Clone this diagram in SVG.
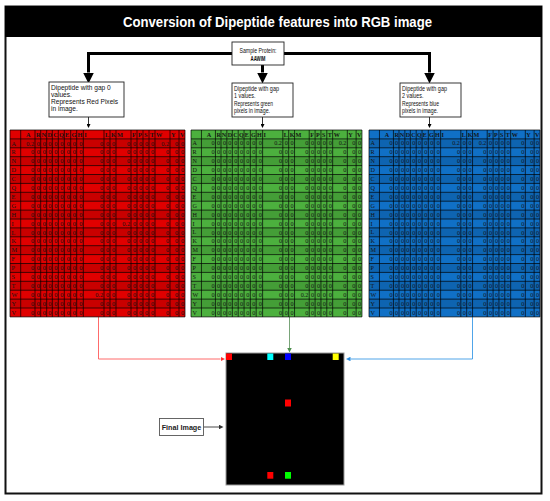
<svg xmlns="http://www.w3.org/2000/svg" xmlns:xlink="http://www.w3.org/1999/xlink" width="550" height="501" viewBox="0 0 550 501">
<style>
.frame{fill:none;stroke:#111;stroke-width:2}
.title{font-family:"Liberation Sans",Arial,sans-serif;font-weight:bold;font-size:15px;fill:#fff}
.box{fill:#fff;stroke:#222;stroke-width:0.9}
.bt{font-family:"Liberation Sans",Arial,sans-serif;font-size:6.6px;fill:#111}
.thick{fill:none;stroke:#000;stroke-width:3}
.thin{fill:none;stroke:#000;stroke-width:0.8}
.gl{fill:none;stroke:#000;stroke-width:0.7}
.gt{font-family:"Liberation Serif","Times New Roman",serif;font-size:6.3px;fill:#151515}
.gh{font-weight:bold}
.v{text-anchor:end}
.stripe{fill:#000;opacity:0.1}
</style>
<defs>
<marker id="ah-big" viewBox="0 -5 10 10" refX="0" refY="0" markerUnits="userSpaceOnUse" markerWidth="11" markerHeight="11" orient="auto"><path d="M0,-5L10,0L0,5z" fill="#000"/></marker>
<marker id="ah-s" viewBox="0 -5 10 10" refX="0" refY="0" markerUnits="userSpaceOnUse" markerWidth="4" markerHeight="4" orient="auto"><path d="M0,-5L10,0L0,5z" fill="#000"/></marker>
<marker id="ah-r" viewBox="0 -5 10 10" refX="0" refY="0" markerUnits="userSpaceOnUse" markerWidth="4.5" markerHeight="4.5" orient="auto"><path d="M0,-5L10,0L0,5z" fill="#ff3030"/></marker>
<marker id="ah-g" viewBox="0 -5 10 10" refX="0" refY="0" markerUnits="userSpaceOnUse" markerWidth="4.5" markerHeight="4.5" orient="auto"><path d="M0,-5L10,0L0,5z" fill="#4e8f4e"/></marker>
<marker id="ah-b" viewBox="0 -5 10 10" refX="0" refY="0" markerUnits="userSpaceOnUse" markerWidth="4.5" markerHeight="4.5" orient="auto"><path d="M0,-5L10,0L0,5z" fill="#2f8fe0"/></marker>
<marker id="ah-k" viewBox="0 -5 10 10" refX="0" refY="0" markerUnits="userSpaceOnUse" markerWidth="4.5" markerHeight="4.5" orient="auto"><path d="M0,-5L10,0L0,5z" fill="#333"/></marker>

<path id="stripes" class="stripe" d="M0 8.9h175v8.9H0zM0 26.7h175v8.9H0zM0 44.5h175v8.9H0zM0 62.3h175v8.9H0zM0 80.1h175v8.9H0zM0 97.9h175v8.9H0zM0 115.7h175v8.9H0zM0 133.5h175v8.9H0zM0 151.3h175v8.9H0zM0 169.1h175v8.9H0z"/>

<text id="zr" class="gt v" x="24.1 29.8 35.8 41.4 47.4 53.4 59.8 65.8 72.4 93.1 99.1 105.1 120.1 126.1 132.1 138.1 144.1 159.1 168.1 174.1">00000000000000000000</text>

<g id="gridbase">
<path class="gl" d="M0 0H175M0 8.9H175M0 17.8H175M0 26.7H175M0 35.6H175M0 44.5H175M0 53.4H175M0 62.3H175M0 71.2H175M0 80.1H175M0 89H175M0 97.9H175M0 106.8H175M0 115.7H175M0 124.6H175M0 133.5H175M0 142.4H175M0 151.3H175M0 160.2H175M0 169.1H175M0 178H175M0 186.9H175M0 0V186.9M10.7 0V186.9M25 0V186.9M30.7 0V186.9M36.7 0V186.9M42.3 0V186.9M48.3 0V186.9M54.3 0V186.9M60.7 0V186.9M66.7 0V186.9M73.3 0V186.9M94 0V186.9M100 0V186.9M106 0V186.9M121 0V186.9M127 0V186.9M133 0V186.9M139 0V186.9M145 0V186.9M160 0V186.9M169 0V186.9M175 0V186.9"/>
<text class="gt gh" x="16 26 31.6 37.5 43.2 49.1 55.1 61.5 67.5 74.3 95 101 107 122 128 134 140 146 161 170" y="6.6">ARNDCQEGHILKMFPSTWYV</text>
<text class="gt" x="1.5 1.5 1.5 1.5 1.5 1.5 1.5 1.5 1.5 1.5 1.5 1.5 1.5 1.5 1.5 1.5 1.5 1.5 1.5 1.5" y="15.5 24.4 33.3 42.2 51.1 60 68.9 77.8 86.7 95.6 104.5 113.4 122.3 131.2 140.1 149 157.9 166.8 175.7 184.6">ARNDCQEGHILKMFPSTWYV</text>
<text class="gt v" x="29.8 35.8 41.4 47.4 53.4 59.8 65.8 72.4 99.1 105.1 126.1 132.1 138.1 144.1 168.1 174.1" y="15.5">0000000000000000</text>
<use xlink:href="#zr" href="#zr" y="24.4"/>
<use xlink:href="#zr" href="#zr" y="33.3"/>
<use xlink:href="#zr" href="#zr" y="42.2"/>
<use xlink:href="#zr" href="#zr" y="51.1"/>
<use xlink:href="#zr" href="#zr" y="60"/>
<use xlink:href="#zr" href="#zr" y="68.9"/>
<use xlink:href="#zr" href="#zr" y="77.8"/>
<use xlink:href="#zr" href="#zr" y="86.7"/>
<text class="gt v" x="24.1 29.8 35.8 41.4 47.4 53.4 59.8 65.8 72.4 93.1 99.1 105.1 126.1 132.1 138.1 144.1 159.1 168.1 174.1" y="95.6">0000000000000000000</text>
<use xlink:href="#zr" href="#zr" y="104.5"/>
<use xlink:href="#zr" href="#zr" y="113.4"/>
<use xlink:href="#zr" href="#zr" y="122.3"/>
<use xlink:href="#zr" href="#zr" y="131.2"/>
<use xlink:href="#zr" href="#zr" y="140.1"/>
<use xlink:href="#zr" href="#zr" y="149"/>
<use xlink:href="#zr" href="#zr" y="157.9"/>
<text class="gt v" x="24.1 29.8 35.8 41.4 47.4 53.4 59.8 65.8 72.4 99.1 105.1 126.1 132.1 138.1 144.1 159.1 168.1 174.1" y="166.8">000000000000000000</text>
<use xlink:href="#zr" href="#zr" y="175.7"/>
<use xlink:href="#zr" href="#zr" y="184.6"/>
</g>
</defs>

<rect x="0" y="0" width="550" height="501" fill="#fff"/>

<g id="frame">
<rect class="frame" x="5.5" y="6.5" width="536" height="487"/>
</g>

<g id="title">
<rect x="5" y="6" width="537" height="31" fill="#000"/>
<text class="title" x="277.5" y="27" text-anchor="middle" textLength="309" lengthAdjust="spacingAndGlyphs">Conversion of Dipeptide features into RGB image</text>
</g>

<g id="connectors">
<path class="thick" d="M232 53.5H88.5V72.5" marker-end="url(#ah-big)"/>
<path class="thick" d="M284 53.5H429.5V72.5" marker-end="url(#ah-big)"/>
<path class="thick" d="M262.5 65V72.5" marker-end="url(#ah-big)"/>
<path class="thin" d="M88.5 117V124" marker-end="url(#ah-s)"/>
<path class="thin" d="M262.5 117V124" marker-end="url(#ah-s)"/>
<path class="thin" d="M429.5 117V124" marker-end="url(#ah-s)"/>
<path fill="none" stroke="#ff5a5a" stroke-width="0.9" d="M98.5 317V359H220.5" marker-end="url(#ah-r)"/>
<path fill="none" stroke="#6a9a6a" stroke-width="0.9" d="M289.5 317V348" marker-end="url(#ah-g)"/>
<path fill="none" stroke="#3c9be6" stroke-width="0.9" d="M472.5 317V359H350.5" marker-end="url(#ah-b)"/>
<path fill="none" stroke="#333" stroke-width="0.9" d="M203.5 427H219" marker-end="url(#ah-k)"/>
</g>

<g id="sample-protein">
<rect class="box" x="232" y="42" width="52" height="23"/>
<text class="bt" x="258" y="52.5" text-anchor="middle" textLength="37" lengthAdjust="spacingAndGlyphs">Sample Protein:</text>
<text class="bt" x="258" y="61" text-anchor="middle" font-weight="bold" textLength="15" lengthAdjust="spacingAndGlyphs">AAWIM</text>
</g>

<g id="gap0-box">
<rect class="box" x="49" y="82" width="75" height="35"/>
<text class="bt" x="51" y="89.5">Dipeptide with gap 0</text>
<text class="bt" x="51" y="96.7">values.</text>
<text class="bt" x="51" y="103.9">Represents Red Pixels</text>
<text class="bt" x="51" y="111.2">in image.</text>
</g>

<g id="gap1-box">
<rect class="box" x="232" y="83" width="61" height="34"/>
<text class="bt" x="234" y="91" textLength="45" lengthAdjust="spacingAndGlyphs">Dipeptide with gap</text>
<text class="bt" x="234" y="98.3" textLength="21.5" lengthAdjust="spacingAndGlyphs">1 values.</text>
<text class="bt" x="234" y="105.6" textLength="39" lengthAdjust="spacingAndGlyphs">Represents green</text>
<text class="bt" x="234" y="112.9" textLength="36" lengthAdjust="spacingAndGlyphs">pixels in image.</text>
</g>

<g id="gap2-box">
<rect class="box" x="400" y="83" width="61" height="34"/>
<text class="bt" x="402" y="91" textLength="45" lengthAdjust="spacingAndGlyphs">Dipeptide with gap</text>
<text class="bt" x="402" y="98.3" textLength="21.5" lengthAdjust="spacingAndGlyphs">2 values.</text>
<text class="bt" x="402" y="105.6" textLength="37" lengthAdjust="spacingAndGlyphs">Represents blue</text>
<text class="bt" x="402" y="112.9" textLength="36" lengthAdjust="spacingAndGlyphs">pixels in image.</text>
</g>

<g id="grid-red" transform="translate(10,130)">
<rect width="175" height="186.9" fill="#e00000"/>
<use xlink:href="#stripes" href="#stripes"/>
<use xlink:href="#gridbase" href="#gridbase"/>
<text class="gt v" x="24.1" y="15.5">0.2</text>
<text class="gt v" x="93.1" y="15.5">0</text>
<text class="gt v" x="120.1" y="15.5">0</text>
<text class="gt v" x="159.1" y="15.5">0.2</text>
<text class="gt v" x="120.1" y="95.6">0.2</text>
<text class="gt v" x="93.1" y="166.8">0.2</text>
<text class="gt v" x="120.1" y="166.8">0</text>
</g>

<g id="grid-green" transform="translate(191,130) scale(0.977,1)">
<rect width="175" height="186.9" fill="#4cb03e"/>
<use xlink:href="#stripes" href="#stripes"/>
<use xlink:href="#gridbase" href="#gridbase"/>
<text class="gt v" x="24.1" y="15.5">0</text>
<text class="gt v" x="93.1" y="15.5">0.2</text>
<text class="gt v" x="120.1" y="15.5">0</text>
<text class="gt v" x="159.1" y="15.5">0.2</text>
<text class="gt v" x="120.1" y="95.6">0</text>
<text class="gt v" x="93.1" y="166.8">0</text>
<text class="gt v" x="120.1" y="166.8">0.2</text>
</g>

<g id="grid-blue" transform="translate(369,130) scale(0.977,1)">
<rect width="175" height="186.9" fill="#1070c6"/>
<use xlink:href="#stripes" href="#stripes"/>
<use xlink:href="#gridbase" href="#gridbase"/>
<text class="gt v" x="24.1" y="15.5">0</text>
<text class="gt v" x="93.1" y="15.5">0.2</text>
<text class="gt v" x="120.1" y="15.5">0.2</text>
<text class="gt v" x="159.1" y="15.5">0</text>
<text class="gt v" x="120.1" y="95.6">0</text>
<text class="gt v" x="93.1" y="166.8">0</text>
<text class="gt v" x="120.1" y="166.8">0</text>
</g>

<g id="final-image">
<rect x="226" y="353" width="118" height="132" fill="#000" stroke="#9a9a9a" stroke-width="1"/>
<rect x="226" y="353.5" width="6" height="6.5" fill="#ff0000"/>
<rect x="267.3" y="353.5" width="6" height="6.5" fill="#00ffff"/>
<rect x="285" y="353.5" width="6" height="6.5" fill="#0000ff"/>
<rect x="332.7" y="353.5" width="6" height="6.5" fill="#ffff00"/>
<rect x="285" y="399.5" width="6" height="7" fill="#ff0000"/>
<rect x="267.3" y="472" width="6" height="6.7" fill="#ff0000"/>
<rect x="285" y="472" width="6" height="6.7" fill="#00ff00"/>
</g>

<g id="final-image-label">
<rect x="159.5" y="418.5" width="44" height="17" fill="#fff" stroke="#555" stroke-width="0.9"/>
<text x="181.5" y="429.8" text-anchor="middle" font-family="'Liberation Sans',Arial,sans-serif" font-weight="bold" font-size="7.2" fill="#222">Final Image</text>
</g>
</svg>
